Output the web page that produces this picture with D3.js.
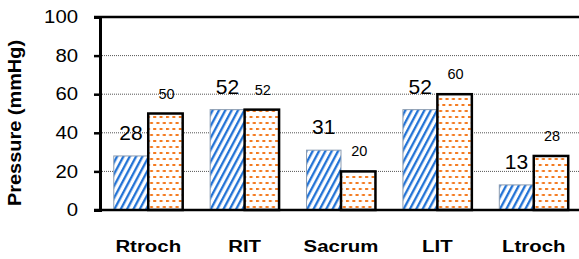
<!DOCTYPE html>
<html>
<head>
<meta charset="utf-8">
<script src="https://cdn.jsdelivr.net/npm/d3@7/dist/d3.min.js"></script>
<style>
  body { margin: 0; background: #fff; }
  text { font-family: "Liberation Sans", Arial, sans-serif; }
</style>
</head>
<body>
<svg id="chart" width="579" height="259"></svg>
<script>
const categories = ['Rtroch', 'RIT', 'Sacrum', 'LIT', 'Ltroch'];
const seriesA = [28, 52, 31, 52, 13];   // blue hatched
const seriesB = [50, 52, 20, 60, 28];   // orange dashed
const yTicks = [0, 20, 40, 60, 80, 100];

const margin = { top: 17, right: -3, bottom: 49, left: 100 };
const width = 579 - margin.left - margin.right;
const height = 259 - margin.top - margin.bottom;

const svg = d3.select('#chart');
const defs = svg.append('defs');

// blue diagonal hatching
const hatch = defs
  .append('pattern')
  .attr('id', 'hatch')
  .attr('patternUnits', 'userSpaceOnUse')
  .attr('width', 5.6)
  .attr('height', 5.6)
  .attr('patternTransform', 'rotate(28)');
hatch.append('rect').attr('width', 5.6).attr('height', 5.6).attr('fill', '#fff');
hatch
  .append('line')
  .attr('x1', 1.2)
  .attr('y1', 0)
  .attr('x2', 1.2)
  .attr('y2', 5.6)
  .attr('stroke', '#176cd4')
  .attr('stroke-width', 2.2);

// orange dashes, staggered rows
const dash = defs
  .append('pattern')
  .attr('id', 'dash')
  .attr('patternUnits', 'userSpaceOnUse')
  .attr('width', 6.4)
  .attr('height', 12)
  .attr('x', 1)
  .attr('y', 3);
dash.append('rect').attr('width', 6.4).attr('height', 12).attr('fill', '#fff');
dash.append('rect').attr('x', 0).attr('y', 0).attr('width', 3).attr('height', 2).attr('fill', '#f47a1f');
dash.append('rect').attr('x', 3.2).attr('y', 6).attr('width', 3).attr('height', 2).attr('fill', '#f47a1f');

const g = svg.append('g').attr('transform', `translate(${margin.left},${margin.top})`);

const x0 = d3.scaleBand().domain(categories).range([0, width]).paddingInner(0.285).paddingOuter(0.143);
const x1 = d3.scaleBand().domain(['a', 'b']).range([0, x0.bandwidth()]);
const y = d3.scaleLinear().domain([0, 100]).range([height, 0]);

// gridlines
g.append('g')
  .selectAll('line')
  .data(yTicks.filter(d => d > 0 && d < 100))
  .join('line')
  .attr('x1', 0)
  .attr('x2', width)
  .attr('y1', d => y(d))
  .attr('y2', d => y(d))
  .attr('stroke', '#555')
  .attr('stroke-width', 1)
  .attr('stroke-dasharray', '1,1');

// top border
g.append('line')
  .attr('x1', -6)
  .attr('x2', width)
  .attr('y1', y(100))
  .attr('y2', y(100))
  .attr('stroke', '#000')
  .attr('stroke-width', 2.5);

// y axis
const yAxis = g.append('g').call(d3.axisLeft(y).tickValues(yTicks).tickSize(6));
yAxis.select('.domain').attr('stroke-width', 3);
yAxis.selectAll('.tick line').attr('stroke-width', 2.5);
yAxis
  .selectAll('.tick text')
  .attr('x', 0)
  .attr('transform', 'translate(-22,0) scale(1.13,1)')
  .attr('font-size', 18)
  .attr('fill', '#000')
  .style('font-family', '"Liberation Sans", Arial, sans-serif');

const groups = g
  .selectAll('.grp')
  .data(categories)
  .join('g')
  .attr('class', 'grp')
  .attr('transform', d => `translate(${x0(d)},0)`);

groups
  .append('rect')
  .attr('x', x1('a'))
  .attr('y', (d, i) => y(seriesA[i]))
  .attr('width', x1.bandwidth())
  .attr('height', (d, i) => height - y(seriesA[i]))
  .attr('fill', 'url(#hatch)')
  .attr('stroke', '#8a9bb0')
  .attr('stroke-width', 1);

groups
  .append('rect')
  .attr('x', x1('b'))
  .attr('y', (d, i) => y(seriesB[i]))
  .attr('width', x1.bandwidth())
  .attr('height', (d, i) => height - y(seriesB[i]))
  .attr('fill', 'url(#dash)')
  .attr('stroke', '#000')
  .attr('stroke-width', 2.5);

// value labels
groups
  .append('text')
  .attr('x', x1('a') + x1.bandwidth() / 2)
  .attr('y', (d, i) => y(seriesA[i]) - 16)
  .attr('text-anchor', 'middle')
  .attr('font-size', 21)
  .text((d, i) => seriesA[i]);

groups
  .append('text')
  .attr('x', x1('b') + x1.bandwidth() / 2 + 1)
  .attr('y', (d, i) => y(seriesB[i]) - 15)
  .attr('text-anchor', 'middle')
  .attr('font-size', 14.5)
  .text((d, i) => seriesB[i]);

// x baseline
g.append('line')
  .attr('x1', -6)
  .attr('x2', width)
  .attr('y1', height)
  .attr('y2', height)
  .attr('stroke', '#000')
  .attr('stroke-width', 2.5);

// category labels (slightly wide, like the source)
groups
  .append('text')
  .attr('transform', `translate(${x0.bandwidth() / 2},${height + 42}) scale(1.2,1)`)
  .attr('text-anchor', 'middle')
  .attr('font-size', 17)
  .attr('font-weight', 'bold')
  .text(d => d);

// y title
svg
  .append('text')
  .attr('transform', 'translate(21,123) rotate(-90) scale(1.14,1)')
  .attr('text-anchor', 'middle')
  .attr('font-size', 17.5)
  .attr('font-weight', 'bold')
  .text('Pressure (mmHg)');
</script>
</body>
</html>
